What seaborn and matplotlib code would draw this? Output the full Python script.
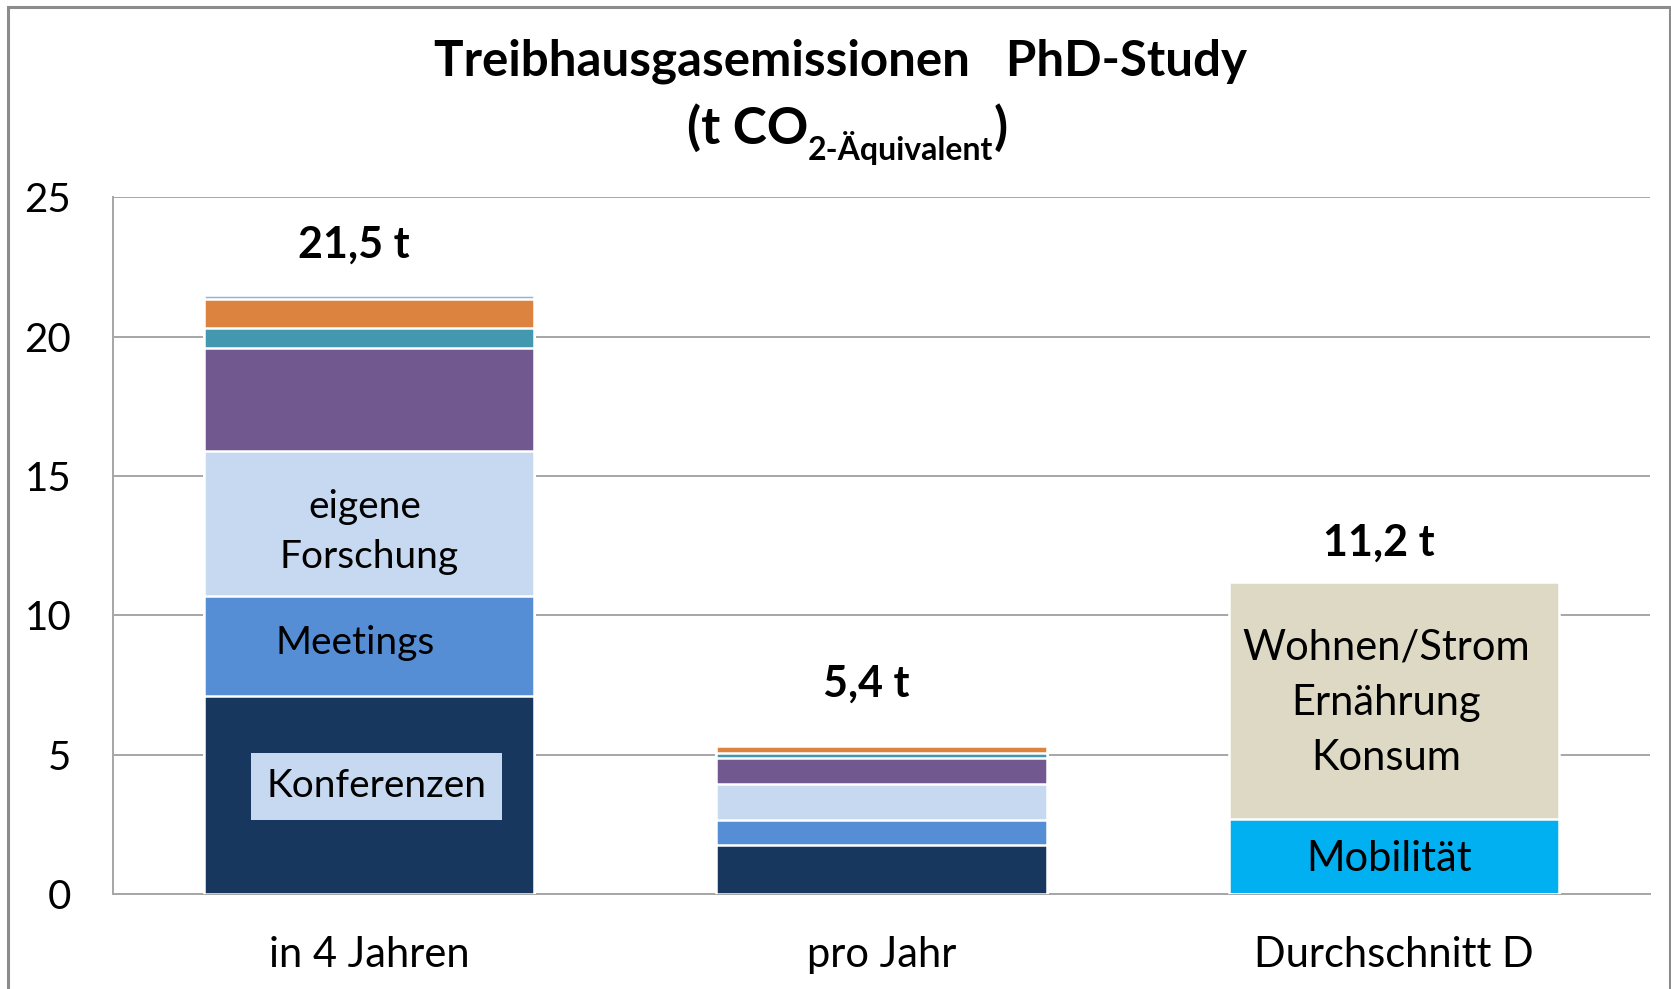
import numpy as np
import pandas as pd
import matplotlib
matplotlib.use("Agg")
import matplotlib.pyplot as plt
from matplotlib.patches import Rectangle
import seaborn as sns

# --- Daten ---
kategorien = ["in 4 Jahren", "pro Jahr", "Durchschnitt D"]
segmente = ["Konferenzen", "Meetings", "eigene Forschung", "Sonstiges 1",
            "Sonstiges 2", "Sonstiges 3", "Sonstiges 4", "Mobilität", "Wohnen/Strom"]
werte_4jahre = [7.1, 3.6, 5.2, 3.7, 0.7, 1.05, 0.15, 0.0, 0.0]
werte_projahr = [1.75, 0.9, 1.3, 0.92, 0.18, 0.27, 0.04, 0.0, 0.0]
werte_durchschnitt = [0.0, 0.0, 0.0, 0.0, 0.0, 0.0, 0.0, 2.7, 8.5]
farben = ["#17375E", "#558ED5", "#C6D9F1", "#71588F", "#4198AF",
          "#DD8340", "#95B3D7", "#00B0F0", "#DDD9C4"]
summen_labels = ["21,5 t", "5,4 t", "11,2 t"]
y_ticks = [0, 5, 10, 15, 20, 25]

sns.set_theme(style="white")
plt.rcParams['font.family'] = ['Lato', 'DejaVu Sans']
plt.rcParams['text.color'] = 'black'

df = pd.DataFrame({"kategorie": np.repeat(kategorien, len(segmente)),
                   "segment": segmente * 3,
                   "wert": werte_4jahre + werte_projahr + werte_durchschnitt})
df["kum"] = df.groupby("kategorie", sort=False)["wert"].cumsum()

fig = plt.figure(figsize=(16.71, 9.89), dpi=100)
ax = fig.add_axes([0.0676, 0.096, 0.9198, 0.7044])

# gestapelt: von oben nach unten übermalen
for seg, col in reversed(list(zip(segmente, farben))):
    sub = df[df["segment"] == seg]
    sns.barplot(data=sub, x="kategorie", y="kum", order=kategorien, color=col,
                saturation=1, width=0.645, edgecolor="white", linewidth=1.8,
                errorbar=None, ax=ax, zorder=3)

ax.set_xlim(-0.5, 2.5)
ax.set_ylim(0, 25)
ax.set_yticks(y_ticks)
ax.set_yticklabels([str(t) for t in y_ticks])
ax.yaxis.grid(True, color="#A6A6A6", linewidth=1.4, zorder=0)
ax.set_axisbelow(True)
ax.set_xlabel("")
ax.set_ylabel("")
for s in ["top", "right"]:
    ax.spines[s].set_visible(False)
for s in ["left", "bottom"]:
    ax.spines[s].set_color("#A6A6A6")
    ax.spines[s].set_linewidth(1.4)
ax.tick_params(axis="y", length=0, pad=30, labelsize=29, labelcolor="black")
ax.tick_params(axis="x", length=0, pad=30, labelsize=30, labelcolor="black")

# Summen über den Balken
tot = df.groupby("kategorie", sort=False)["kum"].max().reindex(kategorien)
for i, (k, lab, dy) in enumerate(zip(kategorien, summen_labels, [1.8, 2.2, 1.4])):
    ax.text(i - 0.03, tot[k] + dy, lab, ha="center", va="center",
            fontsize=31, fontweight="bold", color="black")

# Beschriftungen in den Segmenten
ax.text(-0.008, 13.9, "eigene", ha="center", va="center", fontsize=28)
ax.text(0.0, 12.1, "Forschung", ha="center", va="center", fontsize=28)
ax.text(-0.027, 9.0, "Meetings", ha="center", va="center", fontsize=28)
ax.text(0.015, 3.87, "Konferenzen", ha="center", va="center", fontsize=28,
        bbox=dict(boxstyle="square,pad=0.4", facecolor="#C6D9F1", edgecolor="none"),
        zorder=5)
ax.text(1.985, 8.84, "Wohnen/Strom", ha="center", va="center", fontsize=30)
ax.text(1.985, 6.85, "Ernährung", ha="center", va="center", fontsize=30)
ax.text(1.985, 4.9, "Konsum", ha="center", va="center", fontsize=30)
ax.text(1.99, 1.26, "Mobilität", ha="center", va="center", fontsize=30)

# Titel
fig.text(0.503, 0.938, "Treibhausgasemissionen   PhD-Study", ha="center",
         va="center", fontsize=35.5, fontweight="bold")
fig.canvas.draw()
r = fig.canvas.get_renderer()
teile = [("(t CO", 37, 0.0), ("2-Äquivalent", 23, -0.02), (")", 37, 0.0)]
breiten = []
for txt, fs, dy in teile:
    t = fig.text(0, 0, txt, fontsize=fs, fontweight="bold")
    breiten.append(t.get_window_extent(r).width / fig.bbox.width)
    t.remove()
x = 0.507 - sum(breiten) / 2
for (txt, fs, dy), b in zip(teile, breiten):
    fig.text(x, 0.87 + dy, txt, ha="left", va="center", fontsize=fs, fontweight="bold")
    x += b

# Rahmen
fig.patches.append(Rectangle((8 / 1671, -0.05), 1662 / 1671, 1.05 - 7 / 989,
                             transform=fig.transFigure, fill=False,
                             edgecolor="#8C8C8C", linewidth=2.2))

fig.savefig("out.png", dpi=100)
